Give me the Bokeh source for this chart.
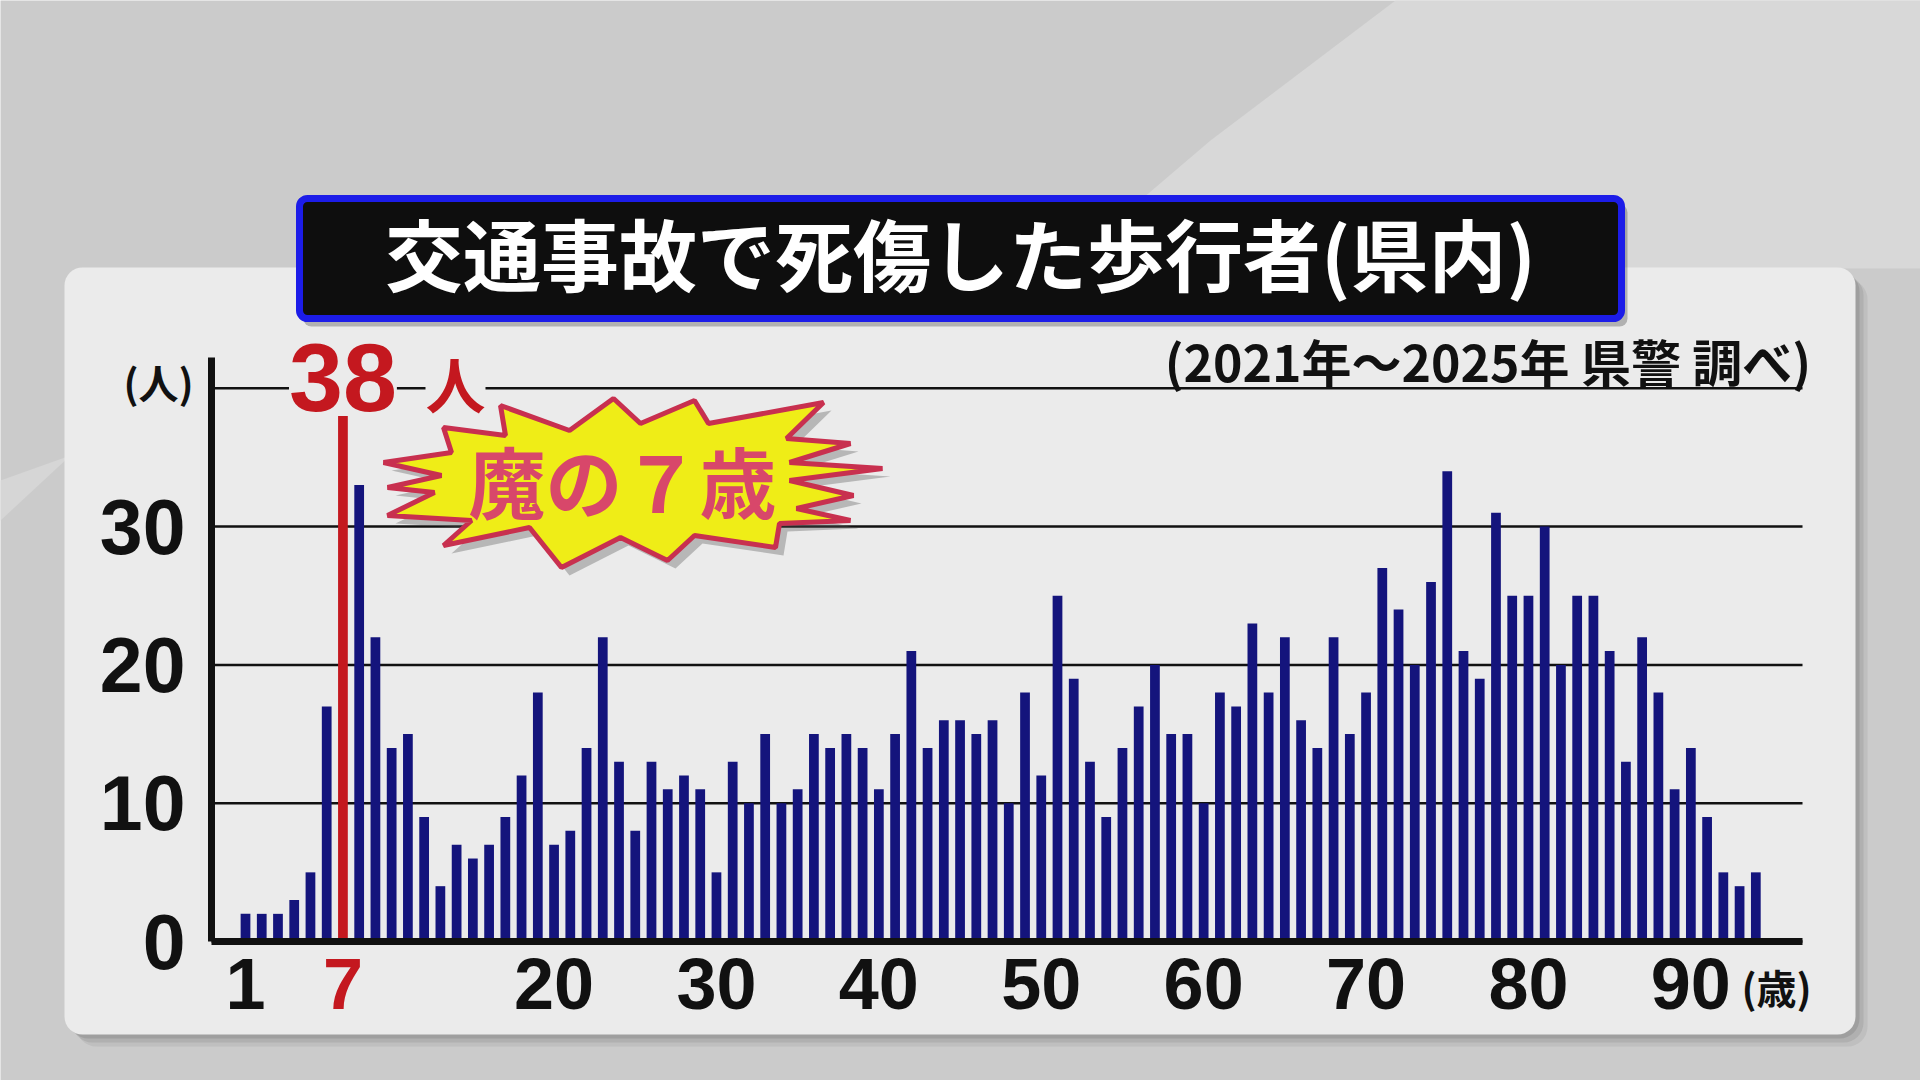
from bokeh.plotting import figure
from bokeh.models import (Range1d, FixedTicker, Label, BoxAnnotation,
                          PolyAnnotation, ColumnDataSource)
from bokeh.embed import file_html
from bokeh.resources import INLINE

# ---------------- data ----------------
ages = list(range(1, 95))
counts = [2, 2, 2, 3, 5, 17, 38, 33, 22, 14, 15, 9, 4, 7, 6, 7, 9, 12, 18, 7,
          8, 14, 22, 13, 8, 13, 11, 12, 11, 5,
          13, 10, 15, 10, 11, 15, 14, 15, 14, 11, 15, 21, 14, 16, 16, 15, 16, 10, 18, 12,
          25, 19, 13, 9, 14, 17, 20, 15, 15, 10,
          18, 17, 23, 18, 22, 16, 14, 22, 15, 18, 27, 24, 20, 26, 34, 21, 19, 31, 25, 25,
          30, 20, 25, 25, 21, 13, 22, 18, 11, 14,
          9, 5, 4, 5]
highlight_age = 7
x_ticks = [1, 7, 20, 30, 40, 50, 60, 70, 80, 90]
y_ticks = [0, 10, 20, 30, 40]
y_tick_labels = {40: ""}

title_text = "交通事故で死傷した歩行者(県内)"
source_text = "(2021年～2025年  県警 調べ)"
y_unit = "(人)"
x_unit = "(歳)"
peak_value_text = "38"
peak_unit_text = "人"
burst_text = "魔の７歳"

# ---------------- style / layout ----------------
NAVY = "#14147c"
RED = "#c4181f"
PANEL = "#ebebeb"
BG = "#cbcbcb"
INK = "#111111"
NUM_FONT = "Liberation Sans"
JP_FONT = "Noto Sans CJK JP"

W, H = 1920, 1080
BASE_PX = 941              # canvas y of the zero line
AGE1_PX = 245              # canvas x of age 1
PX_AGE = 16.24             # pixels per year of age
PX_N = 13.83               # pixels per person
x_start = 1 - AGE1_PX / PX_AGE
x_end = x_start + W / PX_AGE
y_end = BASE_PX / PX_N
y_start = y_end - H / PX_N


def X(px):
    return x_start + px / PX_AGE


def Y(py):
    return (BASE_PX - py) / PX_N


p = figure(width=W, height=H, x_range=Range1d(x_start, x_end),
           y_range=Range1d(y_start, y_end), output_backend="svg",
           toolbar_location=None, min_border=0)
p.title.visible = False
p.border_fill_color = BG
p.background_fill_color = BG
p.outline_line_color = None
p.xgrid.visible = False
p.ygrid.visible = False

# ---------------- background decorations ----------------
p.add_layout(PolyAnnotation(xs=[X(1395), X(1930), X(1930), X(1060), X(1210)],
                            ys=[Y(0), Y(0), Y(268), Y(268), Y(140)],
                            fill_color="#d8d8d8", fill_alpha=1, line_alpha=0,
                            level="underlay"))
p.add_layout(PolyAnnotation(xs=[X(0), X(70), X(0)],
                            ys=[Y(480), Y(455), Y(520)],
                            fill_color="#d6d6d6", fill_alpha=1, line_alpha=0,
                            level="underlay"))
for off, a in [(12, 0.10), (8, 0.14), (4, 0.18)]:
    p.add_layout(BoxAnnotation(left=X(64 + off), right=X(1855 + off),
                               top=Y(267 + off), bottom=Y(1034 + off),
                               fill_color="#555555", fill_alpha=a, line_alpha=0,
                               border_radius=20, level="underlay"))
p.add_layout(BoxAnnotation(left=X(64), right=X(1855), top=Y(267), bottom=Y(1034),
                           fill_color=PANEL, fill_alpha=1, line_alpha=0,
                           border_radius=18, level="underlay"))

# title box
p.add_layout(BoxAnnotation(left=X(303), right=X(1627), top=Y(204), bottom=Y(326),
                           fill_color="#444444", fill_alpha=0.35, line_alpha=0,
                           border_radius=8, level="underlay"))
p.add_layout(BoxAnnotation(left=X(299), right=X(1621), top=Y(198), bottom=Y(318),
                           fill_color="#0e0e0e", fill_alpha=1, line_color="#1c1ce8",
                           line_alpha=1, line_width=7, border_radius=8,
                           level="underlay"))
p.add_layout(Label(x=X(960), y=Y(251), text=title_text, text_font=JP_FONT,
                   text_font_size="78px", text_font_style="bold", text_color="white",
                   text_align="center", text_baseline="middle"))

# ---------------- grid lines ----------------
grid_left, grid_right = X(211), X(1802)
p.segment(x0=[grid_left] * len(y_ticks), x1=[grid_right] * len(y_ticks),
          y0=y_ticks, y1=y_ticks, line_color=INK, line_width=2.5)

# ---------------- bars ----------------
colors = [RED if a == highlight_age else NAVY for a in ages]
src = ColumnDataSource(dict(age=ages, count=counts, color=colors))
p.vbar(x="age", top="count", width=0.6, fill_color="color", line_color=None,
       source=src)

# ---------------- axes ----------------
p.yaxis.fixed_location = grid_left
p.yaxis.bounds = (0, Y(357))
p.xaxis.fixed_location = 0
p.xaxis.bounds = (grid_left, grid_right)
p.yaxis.ticker = FixedTicker(ticks=y_ticks)
p.yaxis.major_label_overrides = y_tick_labels
p.xaxis.ticker = FixedTicker(ticks=[t for t in x_ticks if t != highlight_age])
for ax in (p.xaxis, p.yaxis):
    ax.axis_line_color = INK
    ax.axis_line_width = 7
    ax.major_tick_in = 0
    ax.major_tick_out = 0
    ax.minor_tick_in = 0
    ax.minor_tick_out = 0
    ax.major_label_text_font = NUM_FONT
    ax.major_label_text_font_style = "bold"
    ax.major_label_text_color = INK
p.yaxis.major_label_text_font_size = "77px"
p.yaxis.major_label_standoff = 26
p.xaxis.major_label_text_font_size = "72px"
p.xaxis.major_label_standoff = 17

# ---------------- texts ----------------
p.add_layout(Label(x=highlight_age, y=Y(983), text=str(highlight_age),
                   text_font=NUM_FONT, text_font_size="72px", text_font_style="bold",
                   text_color=RED, text_align="center", text_baseline="middle"))
p.add_layout(Label(x=X(1776), y=Y(986), text=x_unit, text_font=JP_FONT,
                   text_font_size="40px", text_font_style="bold", text_color=INK,
                   text_align="center", text_baseline="middle"))
p.add_layout(Label(x=X(158), y=Y(381), text=y_unit, text_font=JP_FONT,
                   text_font_size="40px", text_font_style="bold", text_color=INK,
                   text_align="center", text_baseline="middle"))
p.add_layout(Label(x=X(1822), y=Y(359), text=source_text, text_font=JP_FONT,
                   text_font_size="50px", text_font_style="bold", text_color=INK,
                   text_align="right", text_baseline="middle"))
p.add_layout(Label(x=highlight_age, y=Y(377), text=peak_value_text, text_font=NUM_FONT,
                   text_font_size="97px", text_font_style="bold", text_color=RED,
                   text_align="center", text_baseline="middle",
                   background_fill_color=PANEL, background_fill_alpha=1))
p.add_layout(Label(x=X(455), y=Y(382), text=peak_unit_text, text_font=JP_FONT,
                   text_font_size="60px", text_font_style="bold", text_color=RED,
                   text_align="center", text_baseline="middle",
                   background_fill_color=PANEL, background_fill_alpha=1))

# ---------------- starburst ----------------
burst = [(383, 462), (451, 452), (443, 427), (505, 435), (500, 405), (569, 430),
         (613, 398), (640, 423), (694, 400), (708, 423), (823, 402), (786, 438),
         (850, 443), (789, 462), (882, 468), (789, 480), (853, 495), (796, 508),
         (850, 520), (779, 523), (775, 547), (694, 535), (667, 560), (620, 537),
         (561, 567), (529, 527), (443, 545), (471, 520), (387, 515), (434, 492),
         (387, 487), (441, 475)]
p.add_layout(PolyAnnotation(xs=[X(bx + 8) for bx, by in burst],
                            ys=[Y(by + 8) for bx, by in burst],
                            fill_color="#555555", fill_alpha=0.35, line_alpha=0))
p.add_layout(PolyAnnotation(xs=[X(bx) for bx, by in burst],
                            ys=[Y(by) for bx, by in burst],
                            fill_color="#efed17", fill_alpha=1, line_color="#c8304f",
                            line_alpha=1, line_width=5))
p.add_layout(Label(x=X(622), y=Y(479), text=burst_text, text_font=JP_FONT,
                   text_font_size="77px", text_font_style="bold", text_color="#d8476a",
                   text_align="center", text_baseline="middle"))

open("out.html", "w").write(file_html(p, INLINE))
